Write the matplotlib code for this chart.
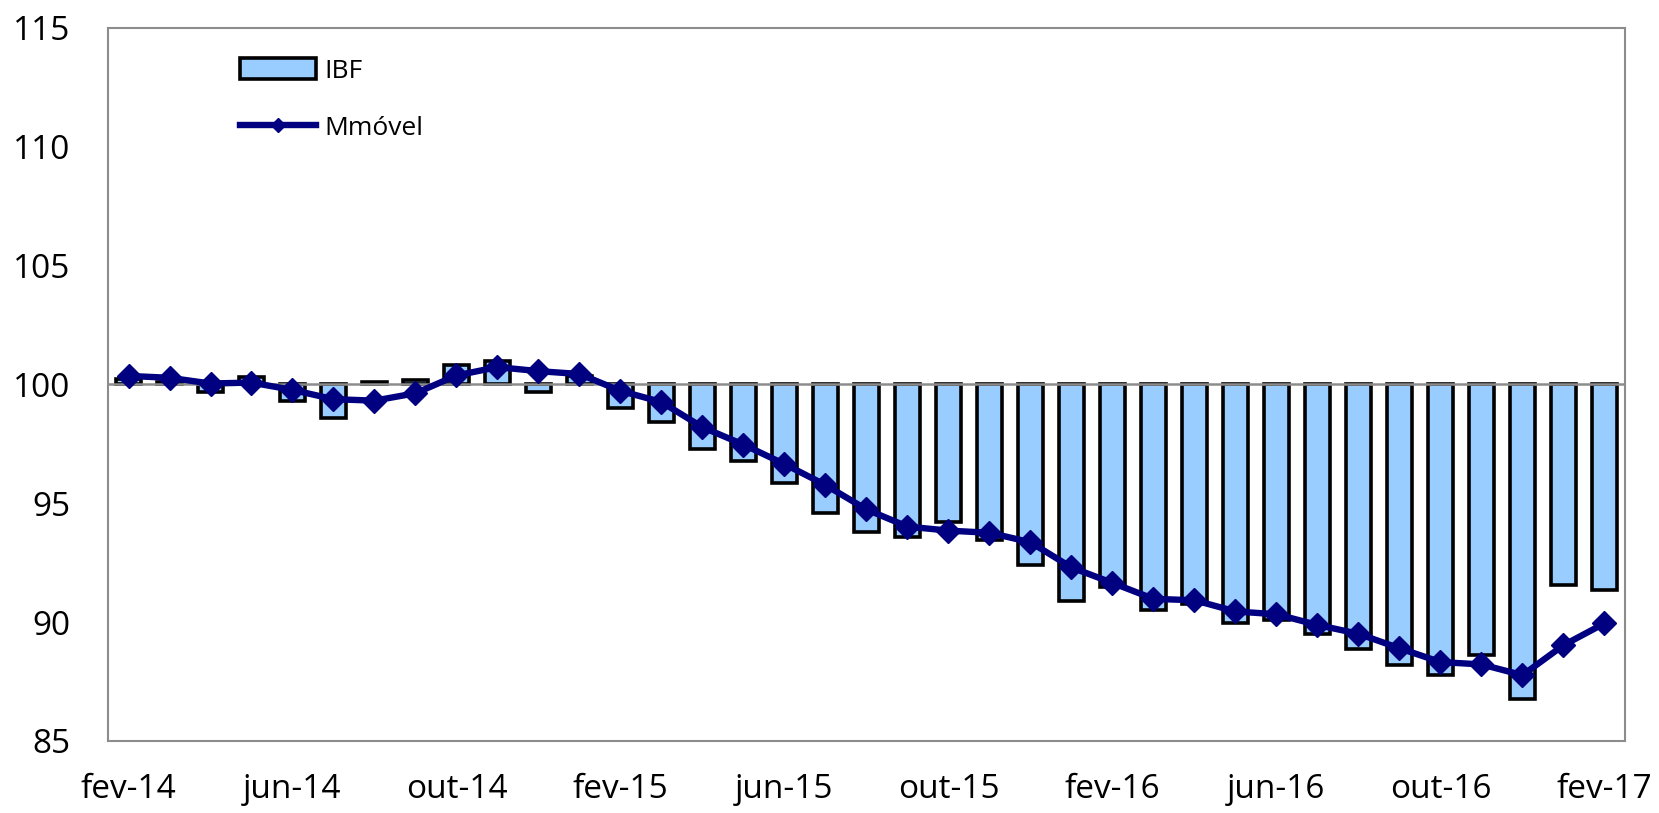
import matplotlib
matplotlib.use("Agg")
import matplotlib.pyplot as plt
import numpy as np

plt.rcParams['font.family'] = ['Open Sans', 'DejaVu Sans']

# monthly index, fev-14 .. fev-17
months = ["jan", "fev", "mar", "abr", "mai", "jun", "jul", "ago", "set", "out", "nov", "dez"]
periods = [months[(1 + i) % 12] + "-" + str(14 + (1 + i) // 12) for i in range(37)]

ibf = [100.25, 100.1, 99.7, 100.3, 99.3, 98.57, 100.1, 100.18, 100.84, 101.0,
       99.7, 100.35, 99.0, 98.4, 97.3, 96.8, 95.86, 94.6, 93.8, 93.58,
       94.2, 93.47, 92.4, 90.9, 91.47, 90.5, 90.78, 89.95, 90.1, 89.5,
       88.88, 88.2, 87.78, 88.62, 86.78, 91.56, 91.37]

mmovel = [100.36, 100.28, 100.04, 100.08, 99.77, 99.38, 99.32, 99.63, 100.38, 100.73,
          100.56, 100.44, 99.73, 99.26, 98.2, 97.47, 96.65, 95.77, 94.74, 94.02,
          93.85, 93.76, 93.36, 92.3, 91.65, 90.98, 90.92, 90.45, 90.33, 89.88,
          89.51, 88.9, 88.32, 88.22, 87.77, 89.03, 89.95]

base = 100
y_ticks = [85, 90, 95, 100, 105, 110, 115]

dpi = 100
fig = plt.figure(figsize=(1659 / dpi, 813 / dpi), dpi=dpi)
ax = fig.add_axes([0.0651, 0.0886, 0.9144, 0.877])

x = np.arange(len(periods))
heights = np.array(ibf) - base
bars = ax.bar(x, heights, bottom=base, width=0.6, color="#99CCFF", edgecolor="black",
              linewidth=2.6, label="IBF", zorder=2)
ax.axhline(base, color="#8c8c8c", linewidth=1.8, zorder=3)
line, = ax.plot(x, mmovel, color="#000080", linewidth=4.6, marker="D", markersize=12.5,
                markeredgewidth=1, label="Mmóvel", zorder=4)

ax.set_xlim(-0.5, len(periods) - 0.5)
ax.set_ylim(85, 115)
ax.set_yticks(y_ticks)
ax.set_xticks(x[::4])
ax.set_xticklabels(periods[::4])
ax.tick_params(axis="both", length=0, labelsize=24)
ax.tick_params(axis="y", pad=27)
ax.tick_params(axis="x", pad=23)
for s in ax.spines.values():
    s.set_color("#8c8c8c")
    s.set_linewidth(1.5)

leg = ax.legend([bars, line], ["IBF", "Mmóvel"], loc="upper left",
                bbox_to_anchor=(0.078, 0.976), frameon=False,
                fontsize=19, handlelength=2.9, handleheight=0.85, handletextpad=0.3,
                labelspacing=1.2, borderpad=0, numpoints=1, markerscale=0.6)

plt.savefig("out.png", dpi=dpi)
